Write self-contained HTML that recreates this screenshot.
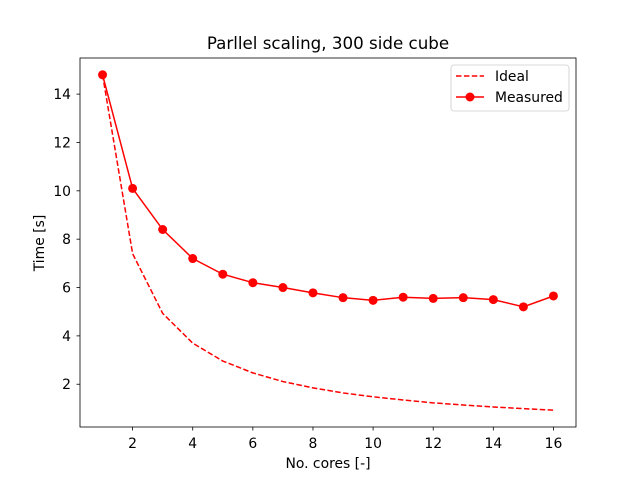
<!DOCTYPE html>
<html><head><meta charset="utf-8">
<style>
body{margin:0;background:#fff;}
svg{display:block;font-family:"DejaVu Sans","Liberation Sans",sans-serif;}
</style></head>
<body>
<svg id="chart" width="640" height="480" viewBox="0 0 640 480">
<rect width="640" height="480" fill="#fff"/>
<text x="328" y="49" text-anchor="middle" font-size="16.7">Parllel scaling, 300 side cube</text>
<g id="xticks"></g><g id="yticks"></g>
<g id="series"></g>
<rect x="80" y="58" width="496" height="369" fill="none" stroke="#000" stroke-width="0.8"/>
<text x="328" y="468" text-anchor="middle" font-size="13.9">No. cores [-]</text>
<text transform="translate(44,243) rotate(-90)" text-anchor="middle" font-size="13.9">Time [s]</text>
<g>
<rect x="451" y="65" width="118" height="46" rx="3" fill="#fff" stroke="#ccc" stroke-width="0.8"/>
<g>
<line x1="456" y1="76" x2="484" y2="76" stroke="red" stroke-width="1.5" stroke-dasharray="5.5,2.4"/>
<text x="495" y="81" font-size="13.9">Ideal</text></g>
<g>
<line x1="456" y1="97" x2="484" y2="97" stroke="red" stroke-width="1.5"/>
<circle cx="470" cy="97" r="4.5" fill="red"/>
<text x="495" y="102" font-size="13.9">Measured</text></g>
</g>
</svg>
<script>
const cores=[1,2,3,4,5,6,7,8,9,10,11,12,13,14,15,16];
const ideal=[14.8,7.4,4.93,3.7,2.96,2.47,2.11,1.85,1.64,1.48,1.35,1.23,1.14,1.06,0.99,0.93];
const measured=[14.8,10.1,8.4,7.2,6.55,6.2,6.0,5.78,5.58,5.47,5.6,5.55,5.58,5.5,5.2,5.65];
const xTicks=[2,4,6,8,10,12,14,16];
const yTicks=[2,4,6,8,10,12,14];
const NS="http://www.w3.org/2000/svg";
const X0=80,X1=576,Y0=427,Y1=58,xmin=0.25,xmax=16.75,ymin=0.231,ymax=15.494;
const sx=v=>X0+(v-xmin)/(xmax-xmin)*(X1-X0);
const sy=v=>Y0-(v-ymin)/(ymax-ymin)*(Y0-Y1);
function mk(t,a,p){const e=document.createElementNS(NS,t);for(const k in a)e.setAttribute(k,a[k]);p.appendChild(e);return e;}
const xg=document.getElementById('xticks'),yg=document.getElementById('yticks'),sg=document.getElementById('series');
xTicks.forEach(v=>{const g=mk('g',{},xg);


mk('line',{x1:sx(v),x2:sx(v),y1:Y0,y2:Y0+3.5,stroke:'#000','stroke-width':0.8},g);
const t=mk('text',{x:sx(v),y:Y0+21,'text-anchor':'middle','font-size':13.9},g);t.textContent=v;});
yTicks.forEach(v=>{const g=mk('g',{},yg);


mk('line',{x1:X0-3.5,x2:X0,y1:sy(v),y2:sy(v),stroke:'#000','stroke-width':0.8},g);
const t=mk('text',{x:X0-9,y:sy(v)+5,'text-anchor':'end','font-size':13.9},g);t.textContent=v;});
const ip=mk('polyline',{points:cores.map((c,i)=>sx(c)+','+sy(ideal[i])).join(' '),fill:'none',stroke:'red','stroke-width':1.5,'stroke-dasharray':'5.5,2.4'},sg);


const mp=mk('polyline',{points:cores.map((c,i)=>sx(c)+','+sy(measured[i])).join(' '),fill:'none',stroke:'red','stroke-width':1.5},sg);


cores.forEach((c,i)=>{const p=mk('circle',{cx:sx(c),cy:sy(measured[i]),r:4.5,fill:'red'},sg);

});
</script>
</body></html>
